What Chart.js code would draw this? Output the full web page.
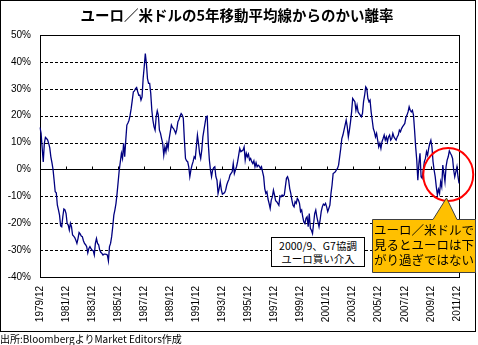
<!DOCTYPE html>
<html>
<head>
<meta charset="utf-8">
<script src="https://cdn.jsdelivr.net/npm/chart.js@4/dist/chart.umd.min.js"></script>
<style>
  body { margin: 0; background: #fff; }
  #wrap { position: relative; width: 478px; height: 345px; overflow: hidden; font-family: "Noto Sans CJK JP", sans-serif; }
  #frame { position: absolute; left: 0; top: 0; width: 476px; height: 332px; box-sizing: border-box; border: 1px solid #000; }
  #title { position: absolute; left: 0; top: 5px; width: 474px; text-align: center; font-size: 14.5px; font-weight: bold; line-height: 20px; }
  #footer { position: absolute; left: 0; top: 332px; font-size: 10px; line-height: 13px; }
  #g7 { position: absolute; left: 271px; top: 237px; width: 94px; height: 30px; box-sizing: border-box; border: 1px solid #000; background: #fff; text-align: center; font-size: 10.5px; line-height: 13px; padding-top: 1px; }
  #callout { position: absolute; left: 0; top: 0; }
  #calloutText { position: absolute; left: 374px; top: 222px; width: 102px; font-size: 12.5px; line-height: 15px; color: #000; }
  canvas { position: absolute; left: 0; top: 0; }
</style>
</head>
<body>
<div id="wrap">
  <canvas id="myChart" width="478" height="345"></canvas>
  <div id="frame"></div>
  <div id="title">ユーロ／米ドルの5年移動平均線からのかい離率</div>
  <div id="g7">2000/9、G7協調<br>ユーロ買い介入</div>
  <svg id="callout" width="478" height="345">
    <path d="M372.5,219.5 L433,219.5 L446.5,198 L457,219.5 L475.5,219.5 L475.5,272.5 L372.5,272.5 Z" fill="#FFC000" stroke="#404040" stroke-width="1"/>
  </svg>
  <div id="calloutText">ユーロ／米ドルで<br>見るとユーロは下<br>がり過ぎではない</div>
  <div id="footer">出所:BloombergよりMarket Editors作成</div>
</div>
<script>
// monthly deviation (%) of EUR/USD from its 5-year moving average, starting 1979/12
const dev1979to1986 = [15.6, 13.4, 8, 2.8, 9.7, 11.9, 11.5, 11, 9.7, 8, 4.7, 2.5, 0, -4, -8.3, -8.7, -13.3, -15, -17, -21, -21.3, -17.6, -14.7, -15, -16.4, -20, -20.7, -22.5, -20, -21.3, -24.4, -24.8, -25.3, -26.3, -27.5, -25.7, -23.5, -24, -24.8, -25, -26.5, -27.5, -28, -28.7, -31, -29.4, -28.7, -29.5, -30, -30.2, -31.8, -27.5, -25.7, -27.5, -28, -30, -30.8, -31.2, -31.8, -31.5, -31.5, -31.6, -31.8, -34, -28.7, -27.5, -25, -21.3, -17, -15, -12.6, -8.9, -4.6, -0.2, 2.9];
const dev1986to1992 = [6, 4.1, 9.7, 4.7, 10.9, 16.5, 17.3, 18.3, 20.2, 22.7, 25.8, 28.9, 29.2, 30.1, 30.5, 28.9, 27.6, 27.6, 25.8, 27, 33.8, 38.2, 43.1, 39.4, 33.8, 32, 32, 28.3, 22, 18.3, 15.9, 14.6, 19.6, 21.8, 20.2, 14.6, 13.4, 11.5, 9.7, 5.3, 8.4, 6.6, 9.7, 7.8, 11.5, 14, 16.5, 15.6, 15.2, 14.4, 13.4, 14.9, 17.7, 18.6, 19.8, 20.8, 20.2, 19, 10.9, 4.1, 3.2, 2.9, 1, -2.7, -0.2, 1.6, 2.9, 4.7, 4.1, 8.4, 12.8, 9.7, 6, 4.1, 7.2, 12.1, 14.6, 17.1, 19.6];
const dev1992to1998 = [19.8, 9.7, 3.5, -0.2, -2.7, -0.2, 0.7, 1, -2.7, -4, -8.9, -7.1, -4.6, -7.5, -9.2, -8.9, -8.7, -7.7, -5.8, -4.6, -3.7, -2.1, -1.5, -0.9, 2.2, -1.5, -0.2, 1, 2.9, 5.3, 7.8, 6.6, 6.9, 7.2, 8.4, 3.5, 6, 4.7, 5.7, 3.5, 4.1, 2.9, 2.2, 3.2, 1, 2.5, 1, 1.6, 1.2, 0.4, 1, -0.9, -2.7, -7.1, -8.9, -8.3, -11, -12.6, -14.5, -11.4, -10.2, -7.7, -9.5, -11.6, -12, -12.6, -13.3, -9.9, -10.2, -9.5, -9.9, -9.5, -6.4, -3.3, -2.7];
const dev1998to2005 = [-4, -7.1, -8.9, -11.4, -13.3, -13.9, -12, -12.6, -10.8, -11.4, -12.6, -15.7, -15.1, -17.6, -19.5, -20.1, -18.2, -17.6, -21.3, -16.4, -21.9, -22.6, -23.8, -20.1, -16.4, -15.1, -17.6, -19.5, -21.3, -18.8, -15.7, -13.9, -12.9, -13.3, -12.6, -13.9, -15.7, -14.5, -13.3, -8.9, -5.8, -1.5, -1.2, -0.9, -0.2, 0.4, 1.6, 4.7, 7.8, 11.5, 12.8, 14.6, 16.5, 18.3, 15.9, 12.1, 14.6, 17.7, 21.4, 26.4, 25.8, 25.2, 22, 23.9, 21.4, 20.8, 20.2, 19.6, 20.8, 25.2, 27.6, 30.7, 30.1, 26.4, 25.2, 25.8, 21.4, 18.3, 15.2];
const dev2005to2012 = [14, 12.1, 13.4, 10.9, 8.4, 9.7, 7.8, 10.3, 11.5, 12.8, 10.9, 12.1, 10.3, 12.1, 12.8, 10.9, 11.5, 13.4, 12.1, 11.5, 10.9, 12.1, 12.8, 14.6, 14, 15.2, 15.9, 16.5, 17.1, 19.3, 20.2, 21.4, 23.3, 22, 21.4, 22, 20.2, 14.6, 8.4, 3.5, -4, 2.2, 6, -2.7, -3.3, -0.2, 2.9, 4.1, 6.6, 5.3, 7.8, 9.7, 10.9, 8.4, 2.9, -0.2, -2.7, -6.4, -9.5, -7.4, -8.9, -4.6, -6.4, 1.6, -1.5, -4.6, 1, 3.5, 4.7, 6.9, 6, 5.3, 4.1, -0.2, -2.7, -0.9, 1, -2.7, -5.2];

const startYear = 1979;
const startMonth = 12;
const labelEvery = 24; // one axis label every 2 years (each December)

const deviation = [].concat(dev1979to1986, dev1986to1992, dev1992to1998, dev1998to2005, dev2005to2012);

const months = [];
for (let i = 0; i < deviation.length; i++) {
  const m = startMonth - 1 + i;
  months.push((startYear + Math.floor(m / 12)) + '/' + (m % 12 + 1));
}

// dashed grid, plot frame, solid zero line with small ticks, red circle
const overlay = {
  id: 'overlay',
  beforeDatasetsDraw(chart) {
    const ctx = chart.ctx;
    const xs = chart.scales.x, ys = chart.scales.y;
    const a = chart.chartArea;
    ctx.save();
    ctx.strokeStyle = '#000';
    ctx.lineWidth = 1;

    ctx.setLineDash([3, 2]);
    ctx.beginPath();
    ys.ticks.forEach(t => {
      if (t.value === 0 || t.value === ys.min || t.value === ys.max) return;
      const y = Math.round(ys.getPixelForValue(t.value)) + 0.5;
      ctx.moveTo(a.left, y);
      ctx.lineTo(a.right, y);
    });
    ctx.stroke();

    ctx.setLineDash([]);
    const y0 = Math.round(ys.getPixelForValue(0)) + 0.5;
    ctx.beginPath();
    ctx.moveTo(a.left, y0);
    ctx.lineTo(a.right, y0);
    for (let i = labelEvery; i < months.length; i += labelEvery) {
      const x = Math.round(xs.getPixelForValue(i)) + 0.5;
      ctx.moveTo(x, y0);
      ctx.lineTo(x, y0 - 3);
    }
    ctx.stroke();
    ctx.strokeRect(Math.round(a.left) + 0.5, Math.round(a.top) + 0.5, Math.round(a.right - a.left), Math.round(a.bottom - a.top));
    ctx.restore();
  },
  afterDraw(chart) {
    const ctx = chart.ctx;
    const xs = chart.scales.x, ys = chart.scales.y;
    const cx = xs.getPixelForValue(376);
    const cy = ys.getPixelForValue(-1.9);
    ctx.save();
    ctx.strokeStyle = '#FF0000';
    ctx.lineWidth = 2;
    ctx.beginPath();
    ctx.ellipse(cx, cy, 25, 26.5, 0, 0, Math.PI * 2);
    ctx.stroke();
    ctx.restore();
  }
};

const ctx = document.getElementById('myChart').getContext('2d');
window.chart = new Chart(ctx, {
  type: 'line',
  data: {
    labels: months,
    datasets: [{
      data: deviation,
      borderColor: '#000080',
      borderWidth: 1.3,
      pointRadius: 0,
      tension: 0,
      fill: false
    }]
  },
  options: {
    responsive: false,
    animation: false,
    layout: { padding: { left: 0, top: 35, right: 16, bottom: 0 } },
    plugins: {
      legend: { display: false },
      tooltip: { enabled: false }
    },
    scales: {
      x: {
        offset: false,
        grid: { display: false, drawTicks: false },
        border: { display: false },
        ticks: {
          autoSkip: false,
          minRotation: 90,
          maxRotation: 90,
          padding: 9,
          color: '#000',
          font: { family: 'Liberation Sans', size: 10 },
          callback: (v, i) => (i % labelEvery === 0 ? months[i] : null)
        },
        afterFit: s => { s.height = 68; }
      },
      y: {
        min: -40,
        max: 50,
        grid: { display: false, drawTicks: false },
        border: { display: false },
        ticks: {
          stepSize: 10,
          padding: 9,
          color: '#000',
          font: { family: 'Liberation Sans', size: 10 },
          callback: v => v + '%'
        },
        afterFit: s => { s.width = 40; }
      }
    }
  },
  plugins: [overlay]
});
</script>
</body>
</html>
